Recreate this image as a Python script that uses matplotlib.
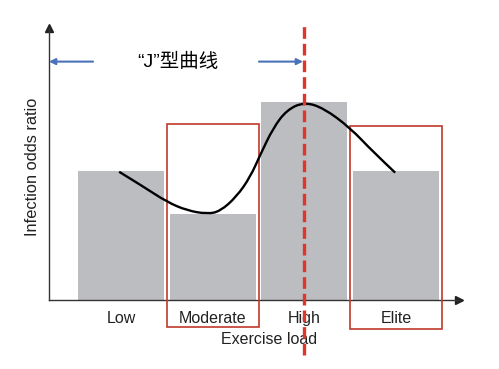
import matplotlib.pyplot as plt
from matplotlib.patches import Rectangle, PathPatch
from matplotlib.path import Path

# categories and bar heights (schematic odds ratio)
categories = ['Low', 'Moderate', 'High', 'Elite']
heights = [1.5, 1.0, 2.3, 1.5]

# the "J" curve
curve_x = [-0.02, 0.24, 0.50, 0.72, 0.94, 1.08, 1.26, 1.41, 1.52, 1.66, 1.81, 2.00, 2.21, 2.50, 2.75, 2.99]
curve_y = [1.49, 1.32, 1.14, 1.04, 1.00, 1.03, 1.20, 1.43, 1.69, 2.00, 2.21, 2.30, 2.23, 2.00, 1.72, 1.48]

# red boxes round Moderate and Elite: (category index, bottom, top)
boxes = [(1, -0.31, 2.05), (3, -0.34, 2.02)]

peak_x = 2.0
arrow_y = 2.77

plt.rcParams['font.family'] = ['Liberation Sans', 'Noto Sans CJK SC']

fig = plt.figure(figsize=(4.99, 3.69), dpi=100)
ax = fig.add_axes([0.0982, 0.187, 0.8216, 0.737])

xs = list(range(len(categories)))
ax.bar(xs, heights, width=0.94, color='#bcbdc0', zorder=1)

for i, lo, hi in boxes:
    ax.add_patch(Rectangle((i - 0.5, lo), 1.0, hi - lo, fill=False,
                           edgecolor='#c0392b', lw=1.2, clip_on=False, zorder=3))

# smooth the read points: quadratic segments between midpoints
pts = list(zip(curve_x, curve_y))
verts = [pts[0]]
codes = [Path.MOVETO]
for k in range(1, len(pts) - 1):
    mid = ((pts[k][0] + pts[k + 1][0]) / 2, (pts[k][1] + pts[k + 1][1]) / 2)
    if k == len(pts) - 2:
        mid = pts[-1]
    verts += [pts[k], mid]
    codes += [Path.CURVE3, Path.CURVE3]
ax.add_patch(PathPatch(Path(verts, codes), fill=False, edgecolor='black',
                       lw=1.7, zorder=4))

# vertical dashed line at the peak
ax.plot([peak_x, peak_x], [-0.64, 3.23], color='#e0352b', lw=2.4,
        ls=(0, (3.5, 1.5)), clip_on=False, zorder=5)

# blue arrows either side of the label
ax.annotate('', xy=(-0.785, arrow_y), xytext=(-0.305, arrow_y),
            arrowprops=dict(arrowstyle='-|>', color='#4a72b8', lw=1.5,
                            shrinkA=0, shrinkB=0, mutation_scale=9))
ax.annotate('', xy=(1.985, arrow_y), xytext=(1.505, arrow_y),
            arrowprops=dict(arrowstyle='-|>', color='#4a72b8', lw=1.5,
                            shrinkA=0, shrinkB=0, mutation_scale=9))
ax.text(0.62, arrow_y, '“J”型曲线', ha='center', va='center', fontsize=14,
        family=['Liberation Sans', 'Noto Sans CJK SC'])

ax.set_xlim(-0.785, 3.686)
ax.set_ylim(0, 3.16)

for s in ['top', 'right']:
    ax.spines[s].set_visible(False)
for s in ['left', 'bottom']:
    ax.spines[s].set_color('#333333')
    ax.spines[s].set_linewidth(1.0)
ax.plot(1, 0, '>', color='#222222', ms=6, transform=ax.transAxes, clip_on=False)
ax.plot(0, 1, '^', color='#222222', ms=6, transform=ax.transAxes, clip_on=False)

ax.set_xticks(xs)
ax.set_xticklabels(categories, fontsize=11.5)
ax.tick_params(axis='x', length=0, pad=8, colors='#222222')
ax.set_yticks([])

ax.text(0.537, -0.147, 'Exercise load', transform=ax.transAxes, ha='center',
        va='center', fontsize=11.5, color='#222222')
ax.text(-0.041, 0.49, 'Infection odds ratio', transform=ax.transAxes, ha='center',
        va='center', rotation=90, fontsize=11.8, color='#222222')

fig.savefig('out.png', dpi=100)
